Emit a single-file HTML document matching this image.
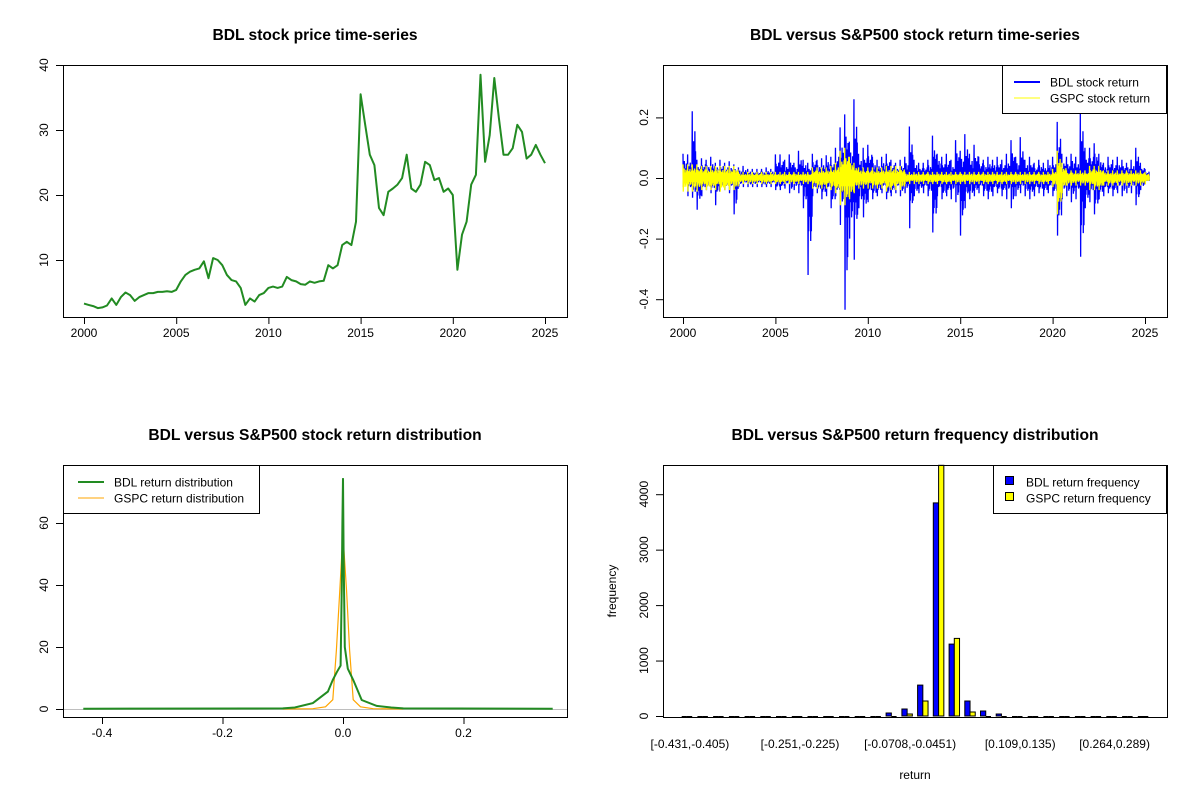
<!DOCTYPE html>
<html><head><meta charset="utf-8"><style>
html,body{margin:0;padding:0;background:#fff;}
svg{display:block;font-family:"Liberation Sans",Arial,sans-serif;}
</style></head><body>
<svg id="chart" width="1200" height="800" viewBox="0 0 1200 800" xmlns="http://www.w3.org/2000/svg">
<rect width="1200" height="800" fill="#fff"/>
</svg>
<script>
// ---------- DATA ----------
const priceYears = Array.from({length:101},(v,i)=>2000+i*0.25);
const priceValues = [3.3,3.1,2.9,2.6, 2.7,3.0,4.1,3.1, 4.3,5.0,4.6,3.7, 4.3,4.6,4.9,4.9, 5.1,5.1,5.2,5.1,
 5.4,6.7,7.7,8.2, 8.5,8.7,9.8,7.2, 10.3,10.0,9.2,7.7, 6.9,6.7,5.7,3.1, 4.1,3.6,4.6,4.9,
 5.7,5.9,5.7,5.9, 7.4,6.9,6.7,6.3, 6.2,6.7,6.5,6.7, 6.8,9.2,8.7,9.2, 12.3,12.8,12.3,15.9,
 35.5,30.8,26.2,24.6, 18.0,16.9,20.5,21.0, 21.6,22.6,26.2,21.0, 20.5,21.6,25.1,24.6,
 22.3,22.6,20.5,21.0, 20.0,8.5,13.9,15.9, 21.6,23.1,38.5,25.1, 29.2,38.0,31.8,26.2,
 26.2,27.2,30.8,29.7, 25.6,26.2,27.7,26.2, 24.9];

const retYears = Array.from({length:101},(v,i)=>2000+i*0.25);
const bdlHigh = [.08,.078,.22,.06,.065,.06,.07,.05,.06,.05,.055,.045,.035,.04,.03,.03,.03,.03,.035,.03,
 .078,.078,.06,.078,.05,.09,.06,.05,.08,.06,.065,.075,.07,.1,.167,.21,.12,.26,.08,.1,
 .11,.07,.06,.07,.08,.06,.05,.06,.07,.17,.06,.05,.05,.06,.14,.08,.07,.08,.06,.125,
 .09,.145,.08,.11,.07,.06,.07,.06,.07,.06,.08,.125,.07,.135,.06,.07,.05,.06,.05,.06,
 .07,.185,.08,.07,.08,.07,.22,.1,.1,.115,.08,.05,.07,.06,.07,.06,.05,.06,.1,.05,.03];
const bdlLow = [-.03,-.06,-.065,-.105,-.06,-.04,-.05,-.09,-.04,-.04,-.05,-.12,-.03,-.03,-.03,-.03,-.03,-.03,-.03,-.03,
 -.04,-.04,-.035,-.05,-.04,-.05,-.1,-.32,-.06,-.05,-.07,-.06,-.1,-.06,-.155,-.435,-.2,-.27,-.1,-.13,
 -.08,-.07,-.06,-.05,-.07,-.06,-.05,-.06,-.05,-.166,-.06,-.05,-.05,-.06,-.18,-.06,-.07,-.06,-.07,-.08,
 -.19,-.1,-.07,-.06,-.05,-.06,-.07,-.06,-.05,-.06,-.07,-.1,-.06,-.05,-.06,-.07,-.06,-.05,-.06,-.05,
 -.06,-.19,-.07,-.06,-.08,-.07,-.26,-.1,-.08,-.12,-.07,-.06,-.05,-.06,-.05,-.06,-.05,-.05,-.09,-.04,-.02];
const gspcHigh = [.045,.045,.045,.045,.04,.04,.04,.04,.04,.04,.04,.04,.02,.02,.02,.02,.02,.02,.02,.02,
 .02,.02,.02,.02,.02,.02,.02,.02,.035,.035,.035,.035,.04,.05,.09,.1,.07,.05,.035,.035,
 .035,.035,.035,.035,.04,.04,.04,.04,.02,.02,.02,.02,.02,.02,.02,.02,.02,.02,.02,.02,
 .02,.02,.02,.02,.02,.02,.02,.02,.02,.02,.02,.02,.02,.02,.02,.02,.02,.02,.02,.02,
 .03,.09,.05,.025,.025,.025,.025,.025,.04,.04,.04,.025,.025,.025,.025,.025,.025,.025,.025,.025,.02];
const gspcLow = [-.045,-.045,-.045,-.045,-.04,-.04,-.04,-.04,-.045,-.04,-.04,-.04,-.02,-.02,-.02,-.02,-.02,-.02,-.02,-.02,
 -.02,-.02,-.02,-.02,-.02,-.02,-.02,-.02,-.035,-.035,-.035,-.035,-.04,-.05,-.09,-.09,-.07,-.05,-.035,-.035,
 -.035,-.035,-.035,-.035,-.045,-.04,-.04,-.04,-.02,-.02,-.02,-.02,-.02,-.02,-.02,-.02,-.02,-.02,-.02,-.02,
 -.02,-.02,-.02,-.02,-.02,-.02,-.02,-.02,-.02,-.02,-.02,-.02,-.02,-.02,-.02,-.02,-.02,-.02,-.02,-.02,
 -.03,-.12,-.05,-.025,-.025,-.025,-.025,-.025,-.04,-.04,-.04,-.025,-.025,-.025,-.025,-.025,-.025,-.025,-.025,-.025,-.02];

const bdlDensX = [-0.431,-0.1,-0.08,-0.05,-0.025,-0.017,-0.01,-0.004,-0.002,-0.001,0,0.001,0.003,0.008,0.017,0.031,0.056,0.08,0.1,0.348];
const bdlDensY = [0.1,0.2,0.5,1.9,5.6,9.4,12,14,40,60,74.5,50,20,13,9.4,2.9,1.0,0.5,0.2,0.1];
const gspcDensX = [-0.1,-0.05,-0.029,-0.017,-0.011,-0.006,-0.002,0,0.002,0.006,0.011,0.017,0.029,0.05,0.1];
const gspcDensY = [0,0.1,0.7,3,19,36,50,56,50,38,19,3,0.7,0.1,0];

const histBdl  = [1,0,0,0,0,0,1,0,0,8,1,8,8,54,126,558,3844,1297,270,90,36,12,2,15,1,0,1,0,0,1];
const histGspc = [0,0,0,0,0,0,0,0,0,2,0,2,2,15,36,270,4522,1400,72,18,5,2,0,3,0,0,0,0,0,0];
const histLabelIdx = [0,7,14,21,27];
const histLabels = ["[-0.431,-0.405)","[-0.251,-0.225)","[-0.0708,-0.0451)","[0.109,0.135)","[0.264,0.289)"];

const yearTicks = [2000,2005,2010,2015,2020,2025];
const priceTicks = [10,20,30,40];
const retTicks = [0.2,0.0,-0.2,-0.4];
const retTickLabels = ["0.2","0.0","-0.2","-0.4"];
const densXTicks = [-0.4,-0.2,0,0.2];
const densXLabels = ["-0.4","-0.2","0.0","0.2"];
const densYTicks = [0,20,40,60];
const histYTicks = [0,1000,2000,3000,4000];

// ---------- HELPERS ----------
const svg = document.getElementById('chart');
const NS = 'http://www.w3.org/2000/svg';
function mk(tag, attrs, parent){ const e=document.createElementNS(NS,tag); for(const k in attrs) e.setAttribute(k,attrs[k]); (parent||svg).appendChild(e); return e; }
function txt(str, x, y, attrs, parent){ const e=mk('text',Object.assign({x:x,y:y,'font-size':12,fill:'#000'},attrs||{}),parent); e.textContent=str; return e; }
function lin(d0,d1,r0,r1){ return v=>r0+(v-d0)*(r1-r0)/(d1-d0); }

function panel(name, L, T, R, B, title){
  const g = mk('g',{});
  
  
  const t = txt(title,(L+R)/2,T-25,{'text-anchor':'middle','font-size':15.6,'font-weight':'bold'},g);
  
  
  return g;
}
function box(g,L,T,R,B){ const r=mk('rect',{x:L+.5,y:T+.5,width:R-L,height:B-T,fill:'none',stroke:'#000','stroke-width':1},g);
    }
function xAxis(g, ticks, labels, sx, B){
  const a = mk('g',{},g);
   
  mk('line',{x1:sx(ticks[0]),x2:sx(ticks[ticks.length-1]),y1:B+.5,y2:B+.5,stroke:'#000'},a);
  ticks.forEach((t,i)=>{ mk('line',{x1:sx(t)+.5,x2:sx(t)+.5,y1:B,y2:B+7,stroke:'#000'},a);
    txt(labels[i],sx(t),B+20,{'text-anchor':'middle'},a); });
}
function yAxis(g, ticks, labels, sy, L){
  const a = mk('g',{},g);
   
  mk('line',{x1:L+.5,x2:L+.5,y1:sy(ticks[0]),y2:sy(ticks[ticks.length-1]),stroke:'#000'},a);
  ticks.forEach((t,i)=>{ const y=sy(t); mk('line',{x1:L-7,x2:L,y1:y+.5,y2:y+.5,stroke:'#000'},a);
    txt(labels[i],L-15,y,{'text-anchor':'middle',transform:`rotate(-90 ${L-15} ${y})`},a); });
}

// ---------- PANEL 1: price ----------
(function(){
  const L=63,T=65,R=567,B=317;
  const g = panel('price-panel',L,T,R,B,'BDL stock price time-series');
  const sx = lin(2000,2025,84,545), sy = lin(0,40,325,65);
  const pts = priceYears.map((y,i)=>sx(y).toFixed(1)+','+sy(priceValues[i]).toFixed(1)).join(' ');
  const p = mk('polyline',{points:pts,fill:'none',stroke:'#228B22','stroke-width':2,'stroke-linejoin':'round'},g);
   
  box(g,L,T,R,B);
  xAxis(g,yearTicks,yearTicks.map(String),sx,B);
  yAxis(g,priceTicks,priceTicks.map(String),sy,L);
})();

// ---------- PANEL 2: returns ----------
(function(){
  const L=663,T=65,R=1167,B=317;
  const g = panel('returns-panel',L,T,R,B,'BDL versus S&P500 stock return time-series');
  const sx = lin(2000,2025,683,1145), sy = lin(0,0.2,178,117.4);
  const shape = [0.55,0.3,0.7,0.4,0.25,0.6,0.35,0.5,0.2,0.65,0.45,0.3];
  function series(hi,lo,color,name,steps,lw){
    let pts=[];
    retYears.forEach((yr,i)=>{
      const x0=sx(yr), w=sx(yr+0.25)-x0;
      for(let k=0;k<steps;k++){
        const x=x0+w*k/steps;
        let h=hi[i], l=lo[i];
        if(k>0){ h*=shape[(i*5+k)%shape.length]; l*=shape[(i*7+k*3)%shape.length]; }
        pts.push(x.toFixed(2)+','+sy(h).toFixed(1)); pts.push((x+w/(2*steps)).toFixed(2)+','+sy(l).toFixed(1));
      }
    });
    const p=mk('polyline',{points:pts.join(' '),fill:'none',stroke:color,'stroke-width':lw},g);
     
  }
  series(bdlHigh,bdlLow,'#0000FF','bdl-return-line',7,1.3);
  series(gspcHigh,gspcLow,'#FFFF00','gspc-return-line',8,1.3);
  box(g,L,T,R,B);
  xAxis(g,yearTicks,yearTicks.map(String),sx,B);
  yAxis(g,retTicks,retTickLabels,sy,L);
  const lg = mk('g',{},g);
   
  mk('rect',{x:1002.5,y:65.5,width:164,height:48,fill:'#fff',stroke:'#000'},lg);
  mk('line',{x1:1014,x2:1040,y1:82,y2:82,stroke:'#0000FF','stroke-width':2},lg);
  txt('BDL stock return',1050,86.5,{},lg);
  mk('line',{x1:1014,x2:1040,y1:98,y2:98,stroke:'#FFFF00','stroke-width':1},lg);
  txt('GSPC stock return',1050,102.5,{},lg);
})();

// ---------- PANEL 3: density ----------
(function(){
  const L=63,T=465,R=567,B=717;
  const g = panel('density-panel',L,T,R,B,'BDL versus S&P500 stock return distribution');
  const sx = lin(0,0.2,343,463.5), sy = lin(0,60,709,523);
  mk('line',{x1:L,x2:R,y1:709.5,y2:709.5,stroke:'#bebebe'},g);
  function curve(X,Y,color,w,name){
    const pts=X.map((x,i)=>sx(x).toFixed(1)+','+sy(Y[i]).toFixed(1)).join(' ');
    const p=mk('polyline',{points:pts,fill:'none',stroke:color,'stroke-width':w},g);
     
  }
  curve(gspcDensX,gspcDensY,'#FFA500',1.2,'gspc-density-line');
  curve(bdlDensX,bdlDensY,'#228B22',2,'bdl-density-line');
  box(g,L,T,R,B);
  xAxis(g,densXTicks,densXLabels,sx,B);
  yAxis(g,densYTicks,densYTicks.map(String),sy,L);
  const lg = mk('g',{},g);
   
  mk('rect',{x:63.5,y:465.5,width:196,height:48,fill:'#fff',stroke:'#000'},lg);
  mk('line',{x1:78,x2:104,y1:482,y2:482,stroke:'#228B22','stroke-width':2},lg);
  txt('BDL return distribution',114,486.5,{},lg);
  mk('line',{x1:78,x2:104,y1:498,y2:498,stroke:'#FFA500','stroke-width':1},lg);
  txt('GSPC return distribution',114,502.5,{},lg);
})();

// ---------- PANEL 4: histogram ----------
(function(){
  const L=663,T=465,R=1167,B=717;
  const g = panel('histogram-panel',L,T,R,B,'BDL versus S&P500 return frequency distribution');
  const unit = 5.243, sxu = u=>L+(u+2.56)*unit, sy = lin(0,4000,716,494.2);
  function bars(vals, offset, color, name){
    vals.forEach((v,i)=>{
      const x=sxu(offset+3*i), top=Math.max(T,sy(v));
      let r;
      if(716-top<1){
        r=mk('line',{x1:x.toFixed(1),x2:(x+unit).toFixed(1),y1:716.5,y2:716.5,stroke:'#000','stroke-width':1},g);
      } else {
        r=mk('rect',{x:x.toFixed(1),y:top.toFixed(1),width:unit.toFixed(2),height:(716-top).toFixed(1),fill:color,stroke:'#000','stroke-width':1},g);
      }
       
    });
  }
  bars(histBdl,1,'#0000FF','bar-bdl');
  bars(histGspc,2,'#FFFF00','bar-gspc');
  box(g,L,T,R,B);
  yAxis(g,histYTicks,histYTicks.map(String),sy,L);
  const xa = mk('g',{},g);
   
  histLabelIdx.forEach((idx,k)=>{ txt(histLabels[k],sxu(2+3*idx)+3,748,{'text-anchor':'middle'},xa); });
  const xt = txt('return',915,779,{'text-anchor':'middle'},g);
   
  const yt = txt('frequency',616,591,{'text-anchor':'middle',transform:'rotate(-90 616 591)'},g);
   
  const lg = mk('g',{},g);
   
  mk('rect',{x:993.5,y:465.5,width:173,height:48,fill:'#fff',stroke:'#000'},lg);
  mk('rect',{x:1005.5,y:476.5,width:8,height:8,fill:'#0000FF',stroke:'#000'},lg);
  txt('BDL return frequency',1026,486.5,{},lg);
  mk('rect',{x:1005.5,y:492.5,width:8,height:8,fill:'#FFFF00',stroke:'#000'},lg);
  txt('GSPC return frequency',1026,502.5,{},lg);
})();
</script>
</body></html>
